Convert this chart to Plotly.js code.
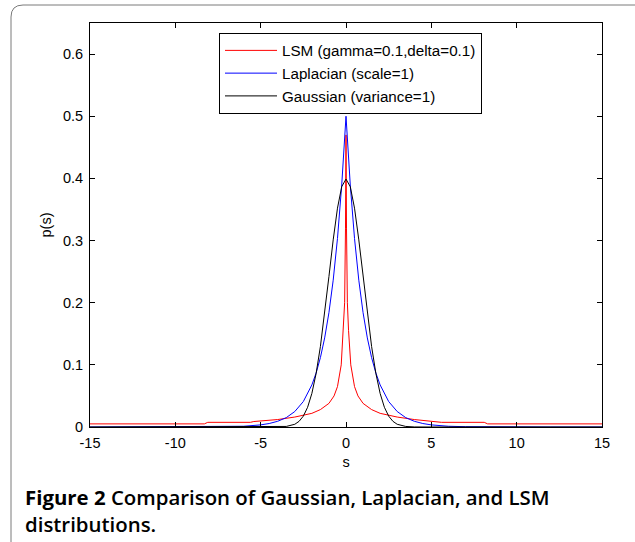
<!DOCTYPE html>
<html>
<head>
<meta charset="utf-8">
<script src="https://cdn.plot.ly/plotly-3.0.1.min.js"></script>
<style>
  html, body { margin: 0; padding: 0; background: #fff; }
  #chart { width: 635px; height: 542px; }
</style>
</head>
<body>
<div id="chart"></div>
<script>
// Series names (legend labels)
const seriesNames = ["LSM (gamma=0.1,delta=0.1)", "Laplacian (scale=1)", "Gaussian (variance=1)"];

// LSM (red)
const lsmX = [-15, -8.3, -8.1, -5.6, -5.4, -5, -4, -3, -2, -1.5, -1, -0.7, -0.5, -0.28, -0.15, -0.08, -0.03, 0,
              0.03, 0.08, 0.15, 0.28, 0.5, 0.7, 1, 1.5, 2, 3, 4, 5, 5.4, 5.6, 8.1, 8.3, 15];
const lsmY = [0.005, 0.005, 0.0075, 0.0075, 0.0088, 0.0095, 0.012, 0.016, 0.022, 0.028, 0.038, 0.05, 0.065, 0.10, 0.155, 0.20, 0.32, 0.47,
              0.32, 0.20, 0.155, 0.10, 0.065, 0.05, 0.038, 0.028, 0.022, 0.016, 0.012, 0.0095, 0.0088, 0.0075, 0.0075, 0.005, 0.005];

// Laplacian (blue)
const lapX = [-15, -12, -10, -8, -7, -6, -5, -4.5, -4, -3.5, -3, -2.5, -2, -1.75, -1.5, -1.25, -1, -0.75, -0.5, -0.25, 0,
              0.25, 0.5, 0.75, 1, 1.25, 1.5, 1.75, 2, 2.5, 3, 3.5, 4, 4.5, 5, 6, 7, 8, 10, 12, 15];
const lapY = [0, 0, 0, 0.0002, 0.0005, 0.0012, 0.0034, 0.0056, 0.0092, 0.0151, 0.0249, 0.041, 0.0677, 0.0869, 0.1116, 0.1433, 0.1839, 0.2362, 0.3033, 0.3894, 0.5,
              0.3894, 0.3033, 0.2362, 0.1839, 0.1433, 0.1116, 0.0869, 0.0677, 0.041, 0.0249, 0.0151, 0.0092, 0.0056, 0.0034, 0.0012, 0.0005, 0.0002, 0, 0, 0];

// Gaussian (black)
const gauX = [-15, -6, -5, -4, -3.5, -3, -2.75, -2.5, -2.25, -2, -1.75, -1.5, -1.25, -1, -0.75, -0.5, -0.25, 0,
              0.25, 0.5, 0.75, 1, 1.25, 1.5, 1.75, 2, 2.25, 2.5, 2.75, 3, 3.5, 4, 5, 6, 15];
const gauY = [0, 0, 0, 0.0001, 0.0009, 0.0044, 0.0091, 0.0175, 0.0317, 0.054, 0.0863, 0.1295, 0.1826, 0.242, 0.3011, 0.3521, 0.3867, 0.3989,
              0.3867, 0.3521, 0.3011, 0.242, 0.1826, 0.1295, 0.0863, 0.054, 0.0317, 0.0175, 0.0091, 0.0044, 0.0009, 0.0001, 0, 0, 0];

// Tick values
const xTicks = [-15, -10, -5, 0, 5, 10, 15];
const yTicks = [0, 0.1, 0.2, 0.3, 0.4, 0.5, 0.6];

const captionBold = "Figure 2";
const captionLine1 = " Comparison of Gaussian, Laplacian, and LSM";
const captionLine2 = "distributions.";

const traces = [
  { x: lsmX, y: lsmY, name: seriesNames[0], mode: "lines", line: { color: "#ff0000", width: 1 } },
  { x: lapX, y: lapY, name: seriesNames[1], mode: "lines", line: { color: "#0000ff", width: 1 } },
  { x: gauX, y: gauY, name: seriesNames[2], mode: "lines", line: { color: "#000000", width: 1 } }
];

// helper for rounded frame path in paper coords
const L = 90, R = 602, T = 23, B = 427;
function px(xp) { return (xp - L) / (R - L); }
function py(yp) { return (B - yp) / (B - T); }
const fx0 = px(11), fx1 = px(645), fy0 = py(5), fy1 = py(552);
const rx = 12 / (R - L), ry = 12 / (B - T);
const framePath = `M ${fx0},${fy1} L ${fx0},${fy0 - ry} Q ${fx0},${fy0} ${fx0 + rx},${fy0} L ${fx1},${fy0}`;

const capFont = { family: "Open Sans, Noto Sans, sans-serif", size: 20.4, color: "#000", weight: 600 };

const layout = {
  width: 635, height: 542,
  margin: { l: L, r: 635 - R, t: T, b: 542 - B, pad: 0 },
  paper_bgcolor: "#ffffff",
  plot_bgcolor: "#ffffff",
  font: { family: "Liberation Sans, Arial, sans-serif", color: "#000", size: 14.5 },
  showlegend: true,
  legend: {
    x: px(219), y: py(33), xanchor: "left", yanchor: "top",
    bordercolor: "#000", borderwidth: 1, bgcolor: "#fff",
    font: { size: 15.2, family: "Liberation Sans, Arial, sans-serif", color: "#000" },
    itemwidth: 52, tracegroupgap: 0
  },
  xaxis: {
    range: [-15, 15], tickvals: xTicks, ticktext: xTicks.map(String),
    ticks: "inside", ticklen: 5, tickcolor: "#000", tickwidth: 1,
    showline: true, linecolor: "#000", linewidth: 1, mirror: "ticks",
    showgrid: false, zeroline: false,
    ticklabelstandoff: 3,
    title: { text: "s", standoff: 6, font: { size: 14.5 } }
  },
  yaxis: {
    range: [0, 0.65], tickvals: yTicks, ticktext: yTicks.map(String),
    ticks: "inside", ticklen: 5, tickcolor: "#000", tickwidth: 1,
    showline: true, linecolor: "#000", linewidth: 1, mirror: "ticks",
    showgrid: false, zeroline: false,
    ticklabelstandoff: 3,
    title: { text: "p(s)", standoff: 7, font: { size: 14.5 } }
  },
  shapes: [
    { type: "path", xref: "paper", yref: "paper", path: framePath,
      line: { color: "#7a7a7a", width: 1 }, layer: "below" }
  ],
  annotations: [
    { xref: "paper", yref: "paper", x: px(23), y: py(510), xanchor: "left", yanchor: "middle",
      align: "left", showarrow: false,
      text: "<b>" + captionBold + "</b>" + captionLine1 + "<br>" + captionLine2, font: capFont }
  ]
};

Plotly.newPlot("chart", traces, layout, { displayModeBar: false, staticPlot: true });
</script>
</body>
</html>
